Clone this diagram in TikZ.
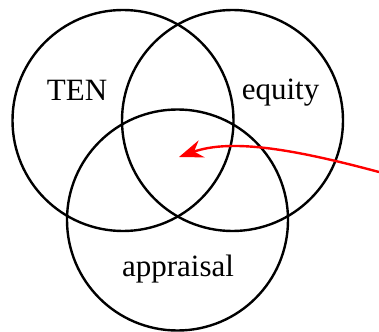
\documentclass[tikz,border=0pt]{standalone}
\usepackage{fontspec}
\setmainfont{Liberation Serif}
\usetikzlibrary{arrows.meta}
\begin{document}
\begin{tikzpicture}[x=0.5pt, y=-0.5pt,
    venn/.style={circle, draw, line width=1.2pt, inner sep=0pt, minimum size=110.5pt},
    setname/.style={anchor=base, font=\fontsize{15.5}{18}\selectfont},
    pointer/.style={red, line width=1.2pt, -{Stealth[length=12pt, width=9pt, inset=4pt]}}]
    \useasboundingbox (0,0) rectangle (379,331);
    
    % Circles
    \node[venn] (ten) at (123,120.5) {};
    \node[venn] (equity) at (232.5,120.5) {};
    \node[venn] (appraisal) at (177.5,220) {};
    
    % Set names
    \node[setname] (tenname) at (77,101) {TEN};
    \node[setname] (equityname) at (280.5,100) {equity};
    \node[setname] (appraisalname) at (178,276) {appraisal};
    
    % Arrow into the middle
    \coordinate (start) at (379,172);
    \coordinate (tip) at (179,157);
    \draw[pointer] (start) .. controls (297,150) and (232,138) .. (tip);
\end{tikzpicture}
\end{document}
